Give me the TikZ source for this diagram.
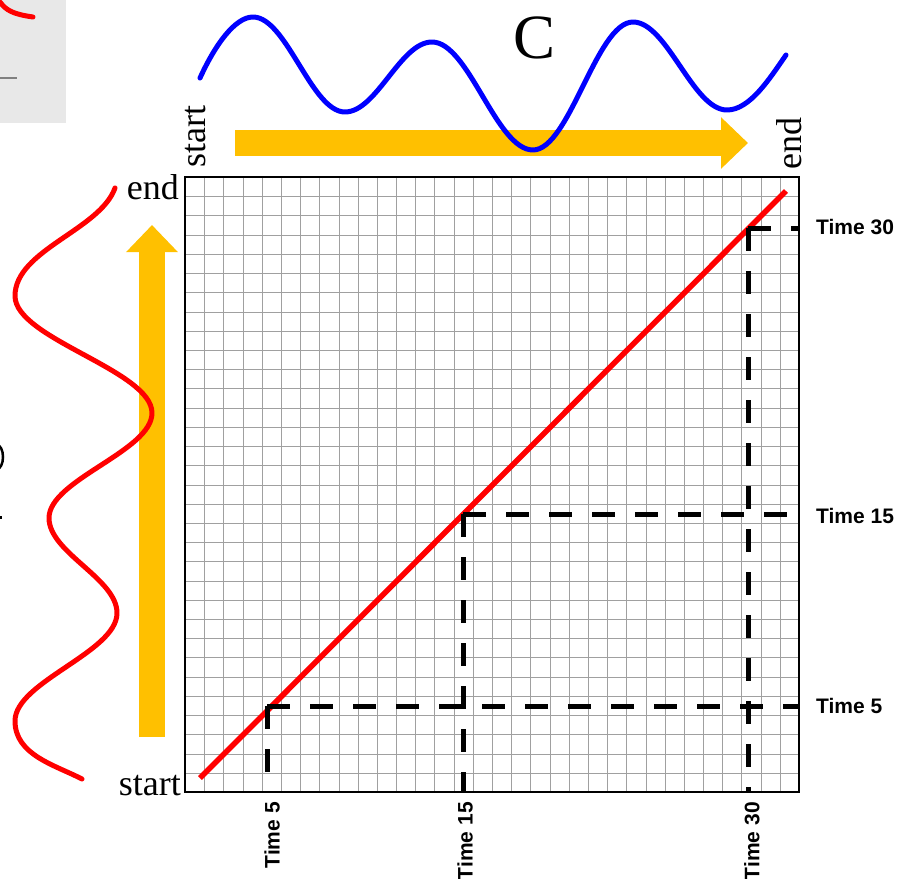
\documentclass[tikz,border=0pt]{standalone}
\usepackage{fontspec}
\setmainfont{Liberation Serif}
\newfontfamily\timefont{Liberation Sans}
\usepackage{xcolor}
\usepackage{tikz}
\usetikzlibrary{positioning, arrows.meta, calc}

\definecolor{barorange}{RGB}{255,192,0}
\definecolor{gridgray}{RGB}{160,160,160}
\definecolor{panelgray}{RGB}{232,232,232}
\definecolor{wavered}{RGB}{255,0,0}
\definecolor{waveblue}{RGB}{0,0,255}

\begin{document}
\begin{tikzpicture}[
    x=1pt, y=-1pt,
    gridline/.style={draw=gridgray, line width=1.8pt},
    framebox/.style={draw=black, line width=2.2pt},
    timeline/.style={draw=black, line width=5pt, dash pattern=on 23pt off 20pt},
    timelabel/.style={font=\timefont\bfseries\fontsize{21}{25}\selectfont, inner sep=0pt},
    axislabel/.style={font=\fontsize{36}{40}\selectfont, inner sep=0pt},
    flowarrow/.style={draw=barorange, line width=26pt,
                      -{Triangle[length=27pt, width=50pt]}},
    wave/.style={line width=5pt, line join=round, line cap=round},
]
\useasboundingbox (0,0) rectangle (898,879);

% Corner panel (cut off)
\fill[panelgray] (0,0) rectangle (66,123);
\draw[wave, draw=wavered] (0,2) .. controls (6,10) and (12,14) .. (33,17);
\draw[gray, line width=2pt] (0,78) -- (17,78);
\draw[line width=2.5pt] (-3,469) arc[start angle=-90, end angle=90, x radius=6, y radius=-12];
\fill (0,516) rectangle (2,519);

% Grid
\coordinate (gridNW) at (185,177);
\coordinate (gridSE) at (799,792);
\foreach \i in {1,...,31} {
    \pgfmathsetmacro{\gx}{round(185+\i*19.1875)+0.5}
    \pgfmathsetmacro{\gy}{round(177+\i*19.21875)+0.5}
    \draw[gridline] (\gx,177) -- (\gx,792);
    \draw[gridline] (185,\gy) -- (799,\gy);
}
\draw[framebox] (gridNW) rectangle (gridSE);

% Warping path
\coordinate (pathstart) at (200,778);
\coordinate (pathend) at (786,191);
\draw[wavered, line width=5.5pt] (pathstart) -- (pathend);

% Time marks
\coordinate (t5) at (267,706);
\coordinate (t15) at (463,514);
\coordinate (t30) at (748,228);
\foreach \t in {t5, t15, t30} {
    \draw[timeline] (\t) -- (\t -| gridSE);
    \draw[timeline] (\t) -- (\t |- gridSE);
}

% Time labels
\node[timelabel, anchor=west] (r30) at (816,227) {Time 30};
\node[timelabel, anchor=west] (r15) at (816,516) {Time 15};
\node[timelabel, anchor=west] (r5) at (816,706) {Time 5};
\node[timelabel, rotate=90, anchor=east] (b5) at (272,802) {Time 5};
\node[timelabel, rotate=90, anchor=east] (b15) at (465,802) {Time 15};
\node[timelabel, rotate=90, anchor=east] (b30) at (752,802) {Time 30};

% Axis labels
\node[axislabel, anchor=base east] (vstart) at (181,795) {start};
\node[axislabel, anchor=base east] (vend) at (179,199) {end};
\node[axislabel, rotate=90, anchor=base west] (hstart) at (205,168) {start};
\node[axislabel, rotate=90, anchor=base west] (hend) at (801,170) {end};
\node[font=\fontsize{63}{70}\selectfont, inner sep=0pt] (seqC) at (535,38) {C};

% Direction arrows
\coordinate (harrowtail) at (235,143);
\coordinate (harrowtip) at (748,143);
\coordinate (varrowtail) at (152,737);
\coordinate (varrowtip) at (152,225);
\draw[flowarrow] (harrowtail) -- (harrowtip);
\draw[flowarrow] (varrowtail) -- (varrowtip);

% Sequences
\draw[wave, draw=waveblue] (200,78)
    .. controls (215,45) and (235,17) .. (253,17)
    .. controls (286.5,17) and (311.5,112) .. (345,112)
    .. controls (376.7,112) and (400.3,42) .. (432,42)
    .. controls (468.8,42) and (496.2,150) .. (533,150)
    .. controls (569.4,150) and (596.6,22) .. (633,22)
    .. controls (667.2,22) and (692.8,110) .. (727,110)
    .. controls (750,110) and (770,78) .. (786,55);
\draw[wave, draw=wavered] (115,188)
    .. controls (100,230) and (15,250) .. (15,296)
    .. controls (15,338.6) and (152,370.4) .. (152,413)
    .. controls (152,451.2) and (49,479.8) .. (49,518)
    .. controls (49,552.6) and (117,578.4) .. (117,613)
    .. controls (117,652.3) and (15,681.7) .. (15,721)
    .. controls (15,755) and (55,765) .. (82,779);

\end{tikzpicture}
\end{document}
